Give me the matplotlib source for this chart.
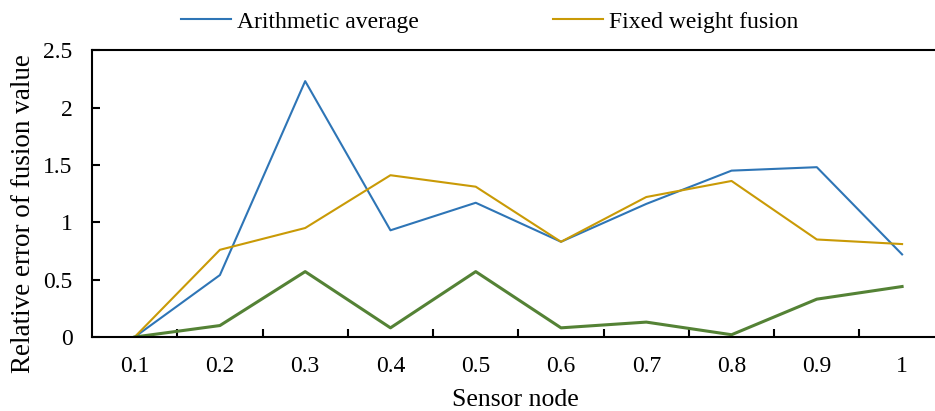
import numpy as np
import matplotlib
matplotlib.use('Agg')
import matplotlib.pyplot as plt

# ==================== Data ====================
nodes = ['0.1', '0.2', '0.3', '0.4', '0.5', '0.6', '0.7', '0.8', '0.9', '1']
arith_avg = [0.0, 0.54, 2.23, 0.93, 1.17, 0.83, 1.16, 1.45, 1.48, 0.72]
fixed_weight = [0.0, 0.76, 0.95, 1.41, 1.31, 0.83, 1.22, 1.36, 0.85, 0.81]
proposed = [0.0, 0.10, 0.57, 0.08, 0.57, 0.08, 0.13, 0.02, 0.33, 0.44]

plt.rcParams['font.family'] = ['Liberation Serif', 'DejaVu Serif']

# ==================== Plot ====================
fig = plt.figure(figsize=(9.35, 4.11), dpi=100)
ax = fig.add_axes([0.0984, 0.180, 0.912, 0.698])

x = np.arange(len(nodes))
l1, = ax.plot(x, arith_avg, color='#2E75B6', linewidth=1.5, label='Arithmetic average')
l2, = ax.plot(x, fixed_weight, color='#C99A06', linewidth=1.5, label='Fixed weight fusion')
ax.plot(x, proposed, color='#548235', linewidth=2.2)

ax.set_xlim(-0.5, len(nodes) - 0.5)
ax.set_ylim(0, 2.5)
ax.set_yticks([0, 0.5, 1, 1.5, 2, 2.5])
ax.set_yticklabels(['0', '0.5', '1', '1.5', '2', '2.5'])
ax.set_xticks(x)
ax.set_xticklabels(nodes)
ax.set_xticks(np.arange(len(nodes)) + 0.5, minor=True)
ax.tick_params(axis='x', which='major', length=0, pad=14, labelsize=17)
ax.tick_params(axis='x', which='minor', direction='in', length=6, width=1.5)
ax.tick_params(axis='y', direction='in', length=6, width=1.5, labelsize=17, pad=14)

for s in ax.spines.values():
    s.set_linewidth(1.5)

ax.set_xlabel('Sensor node', fontsize=18.5)
ax.xaxis.set_label_coords(0.497, -0.18, transform=ax.transAxes)
ax.xaxis.label.set_va('top')
ax.set_ylabel('Relative error of fusion value', fontsize=19.5)
ax.yaxis.set_label_coords(-0.080, 0.43)
ax.yaxis.label.set_va('center')

fig.legend(handles=[l1, l2], loc='center left', bbox_to_anchor=(0.171, 0.947),
           ncol=2, frameon=False, fontsize=17, handlelength=2.1,
           handletextpad=0.25, columnspacing=5.7)

plt.savefig('out.png', dpi=100)
